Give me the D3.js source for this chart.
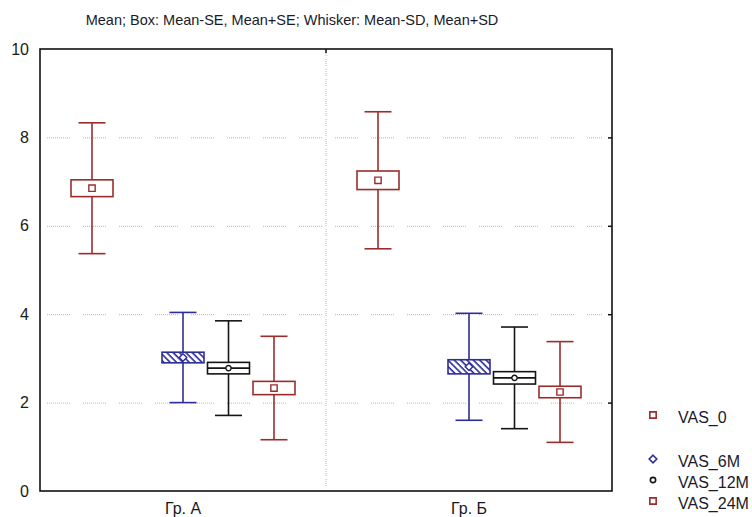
<!DOCTYPE html>
<html>
<head>
<meta charset="utf-8">
<script src="https://cdn.jsdelivr.net/npm/d3@7"></script>
<style>
  body { margin: 0; background: #fff; }
  svg { display: block; font-family: Arial, "Liberation Sans", sans-serif; }
</style>
</head>
<body>
<div id="chart"></div>
<script>
// groups on the x axis, series inside each group
const groups = ["Гр. А", "Гр. Б"];
const seriesNames = ["VAS_0", "VAS_6M", "VAS_12M", "VAS_24M"];
// [group A, group B] for each series
const meanValues = [[6.85, 7.03], [3.02, 2.81], [2.78, 2.56], [2.33, 2.24]];
const seValues = [[0.19, 0.21], [0.12, 0.16], [0.13, 0.14], [0.15, 0.13]];
const sdValues = [[1.48, 1.55], [1.02, 1.21], [1.07, 1.15], [1.17, 1.14]];
const yTicks = [0, 2, 4, 6, 8, 10];
const titleText = "Mean; Box: Mean-SE, Mean+SE; Whisker: Mean-SD, Mean+SD";

class BoxWhiskerChart {
  constructor(_config) {
    this.config = {
      parentElement: _config.parentElement,
      containerWidth: 752,
      containerHeight: 517,
      margin: { top: 49, right: 140, bottom: 26, left: 40 },
    };
    this.initVis();
  }

  initVis() {
    let vis = this;
    vis.config.width = vis.config.containerWidth - vis.config.margin.left - vis.config.margin.right;
    vis.config.height = vis.config.containerHeight - vis.config.margin.top - vis.config.margin.bottom;

    vis.svg = d3.select(vis.config.parentElement).append("svg")
      .attr("width", vis.config.containerWidth)
      .attr("height", vis.config.containerHeight);

    vis.chart = vis.svg.append("g")
      .attr("transform", `translate(${vis.config.margin.left},${vis.config.margin.top})`);

    vis.yScale = d3.scaleLinear().domain([0, 10]).range([vis.config.height, 0]);
    vis.xScale = d3.scaleBand().domain(groups).range([0, vis.config.width]);
    // an empty slot sits between VAS_0 and VAS_6M, like in the original
    vis.offsetScale = d3.scalePoint()
      .domain(["VAS_0", "", "VAS_6M", "VAS_12M", "VAS_24M"])
      .range([-91, 91]);

    vis.colors = ["#9b2c2c", "#2d2d98", "#151515", "#9b2c2c"];

    // hatch for the VAS_6M boxes
    vis.svg.append("defs").append("pattern")
      .attr("id", "hatch")
      .attr("patternUnits", "userSpaceOnUse")
      .attr("width", 4.5).attr("height", 4.5)
      .attr("patternTransform", "rotate(-45)")
      .call((p) => {
        p.append("rect").attr("width", 4.5).attr("height", 4.5).attr("fill", "#fff");
        p.append("line").attr("x1", 1).attr("x2", 1).attr("y1", 0).attr("y2", 4.5)
          .attr("stroke", vis.colors[1]).attr("stroke-width", 1.6);
      });

    vis.renderVis();
  }

  renderVis() {
    let vis = this;
    const w = vis.config.width, h = vis.config.height;

    // title
    vis.svg.append("text")
      .attr("x", 292).attr("y", 25)
      .attr("text-anchor", "middle")
      .attr("font-size", 14.5)
      .attr("fill", "#1a1a2a")
      .text(titleText);

    // gridlines: dotted runs with gaps
    const dash = d3.range(11).map(() => "1,1").join(",") + ",1,13";
    vis.chart.append("g")
      .selectAll("line")
      .data(yTicks.filter((t) => t > 0 && t < 10))
      .join("line")
      .attr("x1", 7).attr("x2", w - 10)
      .attr("y1", (d) => vis.yScale(d) + 0.5).attr("y2", (d) => vis.yScale(d) + 0.5)
      .attr("stroke", "#b4b4b4").attr("stroke-width", 1)
      .attr("stroke-dasharray", dash);

    vis.chart.append("line")
      .attr("x1", vis.xScale(groups[1])).attr("x2", vis.xScale(groups[1]))
      .attr("y1", 0).attr("y2", h - 3)
      .attr("stroke", "#b4b4b4")
      .attr("stroke-dasharray", "1,1,1,1,1,1,1,3");

    // tick marks on the right edge and top of divider
    vis.chart.append("g")
      .selectAll("line")
      .data(yTicks.filter((t) => t > 0 && t < 10))
      .join("line")
      .attr("x1", w - 4).attr("x2", w)
      .attr("y1", (d) => vis.yScale(d) + 0.5).attr("y2", (d) => vis.yScale(d) + 0.5)
      .attr("stroke", "#111").attr("stroke-width", 1.5);
    vis.chart.append("line")
      .attr("x1", vis.xScale(groups[1])).attr("x2", vis.xScale(groups[1]))
      .attr("y1", 0).attr("y2", 4)
      .attr("stroke", "#111").attr("stroke-width", 1.5);

    // y axis labels
    vis.chart.append("g")
      .selectAll("text")
      .data(yTicks)
      .join("text")
      .attr("x", -11)
      .attr("y", (d) => vis.yScale(d))
      .attr("dy", "0.35em")
      .attr("text-anchor", "end")
      .attr("font-size", 16)
      .attr("fill", "#1a1a1a")
      .text((d) => d);

    // x labels
    vis.chart.append("g")
      .selectAll("text")
      .data(groups)
      .join("text")
      .attr("x", (d) => vis.xScale(d) + vis.xScale.bandwidth() / 2)
      .attr("y", h + 23)
      .attr("text-anchor", "middle")
      .attr("font-size", 16)
      .attr("fill", "#1a1a1a")
      .text((d) => d);

    // boxes
    const items = [];
    seriesNames.forEach((s, si) => {
      groups.forEach((g, gi) => {
        items.push({
          series: s, si: si, group: g,
          mean: meanValues[si][gi], se: seValues[si][gi], sd: sdValues[si][gi],
        });
      });
    });

    const boxW = 42, capW = 27;
    const cx = (d) => vis.xScale(d.group) + vis.xScale.bandwidth() / 2 + vis.offsetScale(d.series);

    const boxes = vis.chart.append("g")
      .selectAll("g")
      .data(items)
      .join("g")
      .attr("stroke", (d) => vis.colors[d.si])
      .attr("stroke-width", 1.6)
      .attr("fill", "none");

    // whisker stem
    boxes.append("line")
      .attr("x1", cx).attr("x2", cx)
      .attr("y1", (d) => vis.yScale(d.mean + d.sd))
      .attr("y2", (d) => vis.yScale(d.mean - d.sd));
    // caps
    boxes.selectAll(".cap")
      .data((d) => [d.mean + d.sd, d.mean - d.sd].map((v) => ({ v: v, d: d })))
      .join("line")
      .attr("class", "cap")
      .attr("x1", (e) => cx(e.d) - capW / 2).attr("x2", (e) => cx(e.d) + capW / 2)
      .attr("y1", (e) => vis.yScale(e.v)).attr("y2", (e) => vis.yScale(e.v));
    // SE box
    boxes.append("rect")
      .attr("x", (d) => cx(d) - boxW / 2)
      .attr("y", (d) => vis.yScale(d.mean + d.se))
      .attr("width", boxW)
      .attr("height", (d) => vis.yScale(d.mean - d.se) - vis.yScale(d.mean + d.se))
      .attr("fill", (d) => (d.series === "VAS_6M" ? "url(#hatch)" : "#fff"));
    // middle stripe of VAS_12M box
    boxes.filter((d) => d.series === "VAS_12M")
      .append("line")
      .attr("x1", (d) => cx(d) - boxW / 2).attr("x2", (d) => cx(d) + boxW / 2)
      .attr("y1", (d) => vis.yScale(d.mean)).attr("y2", (d) => vis.yScale(d.mean));

    // mean markers
    boxes.append("path")
      .attr("transform", (d) => `translate(${cx(d)},${vis.yScale(d.mean)})`)
      .attr("d", (d) => vis.markerPath(d.series))
      .attr("fill", "#fff")
      .attr("stroke-width", 1.4);

    // frame
    vis.chart.append("rect")
      .attr("width", w).attr("height", h)
      .attr("fill", "none")
      .attr("stroke", "#111").attr("stroke-width", 1.6);

    // legend
    const legendY = [415, 459, 480, 501];
    const legend = vis.svg.append("g")
      .selectAll("g")
      .data(seriesNames)
      .join("g")
      .attr("transform", (d, i) => `translate(653,${legendY[i]})`);
    legend.append("path")
      .attr("d", (d) => vis.markerPath(d))
      .attr("fill", "#fff")
      .attr("stroke", (d, i) => vis.colors[i])
      .attr("stroke-width", 1.6);
    legend.append("text")
      .attr("x", 25).attr("y", 2)
      .attr("dy", "0.35em")
      .attr("font-size", 16)
      .attr("fill", "#1a1a2a")
      .text((d) => d);
  }

  markerPath(series) {
    if (series === "VAS_6M") return "M0,-3.8L3.8,0L0,3.8L-3.8,0Z";
    if (series === "VAS_12M") return d3.symbol(d3.symbolCircle, 22)();
    return d3.symbol(d3.symbolSquare, 40)();
  }
}

new BoxWhiskerChart({ parentElement: "#chart" });
</script>
</body>
</html>
